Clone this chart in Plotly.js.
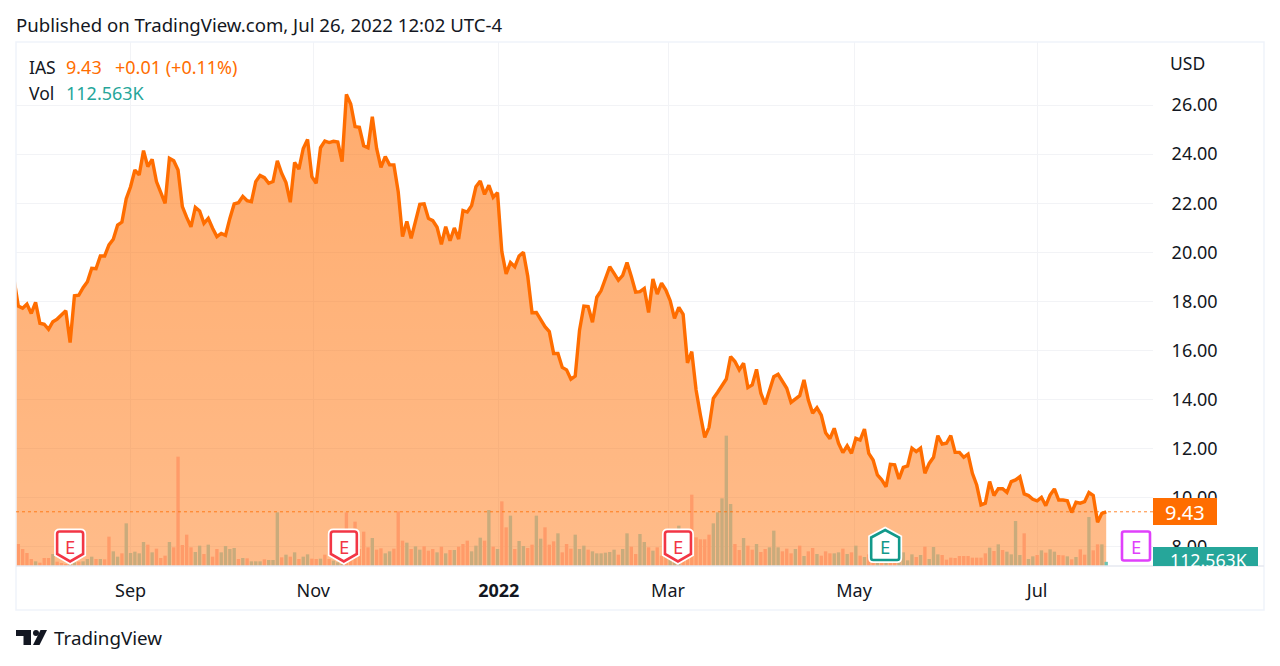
<!DOCTYPE html>
<html>
<head>
<meta charset="utf-8">
<script src="https://cdn.plot.ly/plotly-3.0.1.min.js"></script>
<style>html,body{margin:0;padding:0;background:#fff;overflow:hidden}#c{width:1280px;height:666px}</style>
</head>
<body>
<div id="c"></div>
<script>
const closePrices = [
18.90,17.81,17.72,17.89,17.51,17.96,17.11,17.07,16.86,17.17,
17.28,17.45,17.62,16.32,18.23,18.25,18.56,18.80,19.35,19.33,
19.85,19.85,20.30,20.53,21.11,21.23,22.18,22.67,23.35,23.15,
24.14,23.49,23.79,22.88,22.40,21.99,23.83,23.73,23.35,21.86,
21.42,21.04,21.83,21.68,21.18,21.38,20.98,20.64,20.77,20.69,
21.38,21.97,22.02,22.28,22.10,22.06,22.88,23.13,23.04,22.81,
22.88,23.73,23.22,22.84,22.04,23.66,23.39,24.23,24.60,23.08,
22.81,24.26,24.53,24.47,24.52,24.49,23.69,26.43,26.04,25.12,
25.09,24.34,24.26,25.52,24.23,23.46,23.90,23.56,23.56,22.47,
20.64,21.26,20.57,21.25,21.95,21.97,21.38,
21.29,21.02,20.32,21.04,20.47,20.99,20.54,21.70,21.64,21.90,
22.67,22.90,22.36,22.73,22.24,22.43,20.03,19.12,19.58,19.41,
19.85,20.00,19.03,17.54,17.55,17.24,16.97,16.77,15.88,15.88,
15.31,15.21,14.83,14.96,16.83,17.81,17.79,17.15,18.17,18.44,
18.94,19.41,19.14,18.86,19.06,19.58,19.01,18.38,18.40,18.53,
17.55,18.91,18.30,18.74,18.46,18.03,17.31,17.76,17.47,15.50,
15.95,14.39,13.37,12.46,12.87,14.05,14.30,14.55,14.84,15.75,15.55,
15.21,15.48,14.49,14.60,15.23,14.26,13.81,14.39,14.93,15.03,
14.73,14.46,13.89,14.02,14.16,14.80,13.98,13.45,13.67,13.37,
12.65,12.41,12.83,12.22,11.84,12.12,11.81,12.42,12.35,
12.80,11.81,11.54,10.93,10.73,10.45,11.36,11.34,10.77,11.24,
11.30,12.02,11.88,12.02,11.00,11.40,11.65,12.53,12.19,12.22,
12.53,11.85,11.85,11.65,11.78,11.00,10.52,9.71,9.78,10.66,
10.09,10.37,10.37,10.22,10.66,10.73,10.86,10.16,10.09,9.94,
9.88,10.02,9.68,10.11,10.36,9.91,9.91,9.88,9.40,9.82,
9.78,9.84,10.21,10.09,9.00,9.37,9.43];

const volumesK = [
300,594,459,351,189,126,90,216,216,324,
117,81,54,54,99,117,126,189,252,189,
189,180,792,396,252,342,1152,351,387,342,
648,576,369,468,216,279,648,504,2952,567,
846,504,378,549,324,576,252,459,369,540,
459,486,189,216,207,126,126,126,180,162,
162,1449,234,306,252,369,189,252,315,198,
189,198,306,189,144,99,54,1449,279,1197,
459,927,504,756,441,477,342,396,468,1476,
684,630,459,531,441,531,414,
459,369,522,342,432,432,522,594,684,396,
549,765,684,1512,522,459,1746,1044,1359,459,
675,540,486,576,1359,738,1044,576,666,882,
369,594,468,846,459,549,441,396,342,342,
360,378,441,306,459,882,522,324,864,648,
504,414,504,279,369,369,459,1089,369,369,
1926,774,720,720,846,1152,1449,1827,3519,1674,
594,432,756,549,441,594,378,459,504,954,
504,396,468,342,459,549,270,396,486,324,
279,396,342,342,369,468,324,369,549,279,
243,315,153,153,153,153,153,153,180,369,
153,315,243,297,522,189,513,315,297,171,
225,216,270,270,270,225,225,225,342,495,
405,585,432,387,315,1215,297,882,189,261,
297,423,360,450,387,297,288,261,180,243,
450,306,1323,423,585,585,112.563];

const volumeSide = (
"OOOOOGOOOG"+"OOOGGOGGGO"+"GOOGGOGGGG"+"GOGOOOGOOO"+"OOGGOGOOGG"+
"GGOGOGGGOG"+"GGOGOGOGGO"+"OGOOGGGOOO"+"OOOGOOGGOO"+"OGOGGOO"+
"OGOGOGOOOG"+"GGOGOGOOGO"+"GGOOGGOOOG"+"OOOGGGOGGG"+"GGGOGGOOGG"+
"OGOOOGGGOO"+"OOOOOGGGGG"+"OOGOOGOOGG"+"GOOOGOGOOG"+"OOOGGOGOGO"+
"GOOGOGOOGG"+"GGOGOGGGOO"+"OOOOOOOOOG"+"OGOGGGGOGG"+"OGOGGOOGOG"+"OOGOOGT").split("");

const sideColors = {O:"#ff9b69", G:"#c9ab7c", T:"#6cc4b4"};
const priceTicks = [8,10,12,14,16,18,20,22,24,26];
const timeTickIndex = [27,69.3,112.3,151.5,194.6,237];
const timeTickLabels = ["Sep","Nov","<b>2022</b>","Mar","May","Jul"];
const earningsIndex = [13,76.4,153.8,201.8,259.9];
const earningsKind = ["past","past","past","beat","next"];
const legendLabel = "IAS", lastPriceText = "9.43", changeText = "+0.01 (+0.11%)", lastVolText = "112.563K";

const index = closePrices.map((_, i) => i);
const lastPrice = closePrices[closePrices.length - 1];

const L = 16, R = 1153, T = 42, B = 566, W = R - L, H = B - T;
const fx = x => (x - L) / W, fy = y => (B - y) / H;
const FONT = '"Noto Sans", sans-serif', INK = "#131722", ORANGE = "#ff6d00", TEAL = "#26a69a";

function paperLabel(x, y, text, size, color, anchor) {
  return {xref:"paper", yref:"paper", x:fx(x), y:fy(y), text:text, showarrow:false,
    xanchor:anchor||"left", yanchor:"middle", align:"left", borderpad:0,
    font:{family:FONT, size:size, color:color}};
}
function paperRect(x0, y0, x1, y1, fill, line) {
  return {type:"rect", xref:"paper", yref:"paper", x0:fx(x0), x1:fx(x1), y0:fy(y0), y1:fy(y1),
    fillcolor:fill, line:line||{width:0}, layer:"above"};
}
const shieldPaths = {
  past:"M-13,32 Q-13,34.5 -10.5,34.5 L10.5,34.5 Q13,34.5 13,32 L13,12 L0,4.5 L-13,12 Z",
  beat:"M-14,28.5 L0,36 L14,28.5 L14,8 Q14,6 12,6 L-12,6 Q-14,6 -14,8 Z",
  next:"M-14,32.5 Q-14,34.5 -12,34.5 L12,34.5 Q14,34.5 14,32.5 L14,7.5 Q14,5.5 12,5.5 L-12,5.5 Q-14,5.5 -14,7.5 Z"
};
const kindColor = {past:"#f23645", beat:"#12998a", next:"#e040fb"};

const earnShapes = [], earnNotes = [];
earningsIndex.forEach((ix, k) => {
  const kind = earningsKind[k], base = {type:"path", xref:"x", yref:"paper", xsizemode:"pixel", ysizemode:"pixel",
    xanchor:ix, yanchor:0, path:shieldPaths[kind], layer:"above"};
  if (kind !== "next") earnShapes.push(Object.assign({}, base, {fillcolor:"#fff", line:{color:"#fff", width:6}}));
  earnShapes.push(Object.assign({}, base, {fillcolor:"#fff", line:{color:kindColor[kind], width:2.6}}));
  earnNotes.push({xref:"x", yref:"paper", x:ix, y:fy(546.5), text:"E", showarrow:false, xanchor:"center", yanchor:"middle",
    font:{family:FONT, size:18.5, color:kindColor[kind]}});
});

const logoShapes = [
  {type:"path", xref:"paper", yref:"paper", layer:"above", fillcolor:INK, line:{width:0},
   path:`M${fx(16)},${fy(630)} L${fx(31)},${fy(630)} L${fx(31)},${fy(645)} L${fx(23.5)},${fy(645)} L${fx(23.5)},${fy(636)} L${fx(16)},${fy(636)} Z`},
  {type:"circle", xref:"paper", yref:"paper", layer:"above", fillcolor:INK, line:{width:0},
   x0:fx(33), x1:fx(39), y0:fy(630), y1:fy(636)},
  {type:"path", xref:"paper", yref:"paper", layer:"above", fillcolor:INK, line:{width:0},
   path:`M${fx(40.5)},${fy(630)} L${fx(47)},${fy(630)} L${fx(39.5)},${fy(645)} L${fx(33)},${fy(645)} Z`}
];

const traces = [
  {type:"scatter", mode:"lines", x:index, y:closePrices, yaxis:"y", hoverinfo:"skip",
   line:{color:ORANGE, width:3.4, shape:"linear"}, fill:"tozeroy",
   fillgradient:{type:"vertical", start:7, stop:26.5,
     colorscale:[[0,"rgba(255,109,0,0.46)"],[1,"rgba(255,109,0,0.57)"]]}},
  {type:"bar", x:index, y:volumesK, yaxis:"y2", width:0.78, hoverinfo:"skip",
   marker:{color:volumeSide.map(s => sideColors[s]), line:{width:0}}}
];

const layout = {
  width:1280, height:666, margin:{l:L, r:1280-R, t:T, b:666-B, pad:0},
  paper_bgcolor:"#fff", plot_bgcolor:"#fff", showlegend:false, hovermode:false,
  font:{family:FONT, color:INK},
  xaxis:{type:"linear", range:[0.463,263.84], tickmode:"array", tickvals:timeTickIndex, ticktext:timeTickLabels,
    showgrid:true, gridcolor:"#f2f3f6", gridwidth:1, zeroline:false, showline:false,
    ticks:"outside", ticklen:8, tickcolor:"rgba(0,0,0,0)", tickfont:{family:FONT, size:18, color:INK}},
  yaxis:{range:[7.222,28.566], side:"right", tickmode:"array", tickvals:priceTicks, tickformat:".2f",
    showgrid:true, gridcolor:"#f2f3f6", gridwidth:1, zeroline:false, showline:false,
    ticks:"outside", ticklen:14, tickcolor:"rgba(0,0,0,0)", tickfont:{family:FONT, size:18, color:INK}},
  yaxis2:{overlaying:"y", range:[0,14148], showticklabels:false, showgrid:false, zeroline:false, showline:false, ticks:""},
  shapes:[
    paperRect(16,42,1264,610,"rgba(0,0,0,0)",{color:"#f0f3fa",width:1.5}),
    {type:"line", xref:"paper", yref:"paper", x0:fx(16), x1:fx(1264), y0:0, y1:0, layer:"above", line:{color:"#e6e9f0", width:1.5}},
    {type:"line", xref:"paper", yref:"y", x0:0, x1:1, y0:lastPrice, y1:lastPrice, layer:"above", opacity:0.8, line:{color:ORANGE, width:1, dash:"dot"}},
    paperRect(1153,498,1217,525,ORANGE),
    paperRect(1153,547,1258,566,TEAL),
    ...earnShapes, ...logoShapes
  ],
  annotations:[
    paperLabel(15,24,"Published on TradingView.com, Jul 26, 2022 12:02 UTC-4",18.6,INK),
    paperLabel(28,67,legendLabel,17.5,INK),
    paperLabel(65,67,lastPriceText,18,ORANGE),
    paperLabel(114,67,changeText,18,ORANGE),
    paperLabel(28,93,"Vol",17.5,INK),
    paperLabel(65,93,lastVolText,18,TEAL),
    paperLabel(1169,63,"USD",17.5,INK),
    paperLabel(1185,512,lastPriceText,20,"#fff","center"),
    paperLabel(1208,560,lastVolText,17.8,"#fff","center"),
    paperLabel(52.5,638,"TradingView",18.8,INK),
    ...earnNotes
  ]
};
Plotly.newPlot("c", traces, layout, {staticPlot:true, displayModeBar:false});
</script>
</body>
</html>
